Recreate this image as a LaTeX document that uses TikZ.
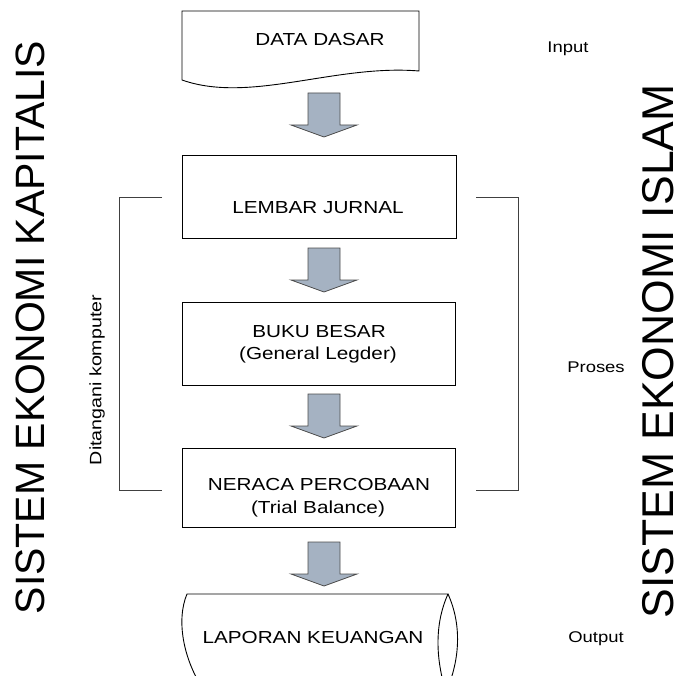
\documentclass[tikz,border=0pt]{standalone}
\usepackage{fontspec}
\setmainfont{Liberation Sans}
\newfontfamily\widefont{Liberation Sans}[FakeStretch=1.19]
\begin{document}
\begin{tikzpicture}[x=1pt,y=-1pt,
  outline/.style={draw=black,line width=0.9pt},
  bracket/.style={draw=black!75,line width=0.9pt},
  boxlabel/.style={anchor=base,inner sep=0pt,font=\widefont\fontsize{17.4}{21}\selectfont},
  sidelabel/.style={anchor=base,inner sep=0pt,font=\widefont\fontsize{15.5}{18}\selectfont},
  systemlabel/.style={rotate=90,inner sep=0pt},
  flowarrow/.pic={
    \draw[fill=arrowfill,draw=black!70,line width=0.8pt,line join=miter]
      (-16,0) -- (16,0) -- (16,32) -- (33,32) -- (0,44) -- (-33,32) -- (-16,32) -- cycle;
  }]
\definecolor{arrowfill}{RGB}{165,178,194}
\useasboundingbox (0,0) rectangle (679,676);
\clip (0,0) rectangle (679,676);

% input document with wavy lower edge
\draw[outline] (182,11) -- (419,11) -- (419,71)
  .. controls (335,64) and (250,104) .. (182,80) -- cycle;
\node[boxlabel] (dataT) at (320,45.5) {DATA DASAR};

% process boxes
\node[outline,minimum width=274pt,minimum height=83pt,inner sep=0pt] (jurnal) at (319,196.5) {};
\node[boxlabel] (jurnalT) at (318,214) {LEMBAR JURNAL};

\node[outline,minimum width=273pt,minimum height=83pt,inner sep=0pt] (buku) at (318.5,343.5) {};
\node[boxlabel] (bukuT) at (319,337) {BUKU BESAR};
\node[boxlabel] (bukuS) at (318,359) {(General Legder)};

\node[outline,minimum width=273pt,minimum height=79pt,inner sep=0pt] (neraca) at (318.5,487.5) {};
\node[boxlabel] (neracaT) at (319,490) {NERACA PERCOBAAN};
\node[boxlabel] (neracaS) at (318,513) {(Trial Balance)};

% output storage shape
\draw[outline] (187,594) -- (448,594)
  .. controls (434,625) and (436,660) .. (446,692) -- (205,692)
  .. controls (183,660) and (176,620) .. (187,594) -- cycle;
\draw[outline] (448,594) .. controls (462,625) and (460,660) .. (446,692);
\node[boxlabel] (laporanT) at (313,643) {LAPORAN KEUANGAN};

% block arrows between stages
\pic at (324,93) {flowarrow};
\pic at (324,248) {flowarrow};
\pic at (324,394) {flowarrow};
\pic at (324,542) {flowarrow};

% brackets around the computerised stages
\coordinate (lbT) at (162,197);
\coordinate (lbB) at (162,490);
\coordinate (rbT) at (476,197);
\coordinate (rbB) at (476,490);
\draw[bracket] (lbT) -- (119,197) -- (119,490) -- (lbB);
\draw[bracket] (rbT) -- (518,197) -- (518,490) -- (rbB);
\node[rotate=90,inner sep=0pt,font=\widefont\fontsize{16.5}{20}\selectfont] (komputer) at (97,380) {Ditangani komputer};

% stage labels on the right
\node[sidelabel] (input) at (568,53) {Input};
\node[sidelabel] (proses) at (596,372) {Proses};
\node[sidelabel] (output) at (596,642) {Output};

% system names
\node[systemlabel,font=\fontsize{41}{48}\selectfont] (kapitalis) at (30.5,327.5) {SISTEM EKONOMI KAPITALIS};
\node[systemlabel,font=\fontsize{44.5}{54}\selectfont] (islam) at (658.5,351.5) {SISTEM EKONOMI ISLAM};
\end{tikzpicture}
\end{document}
